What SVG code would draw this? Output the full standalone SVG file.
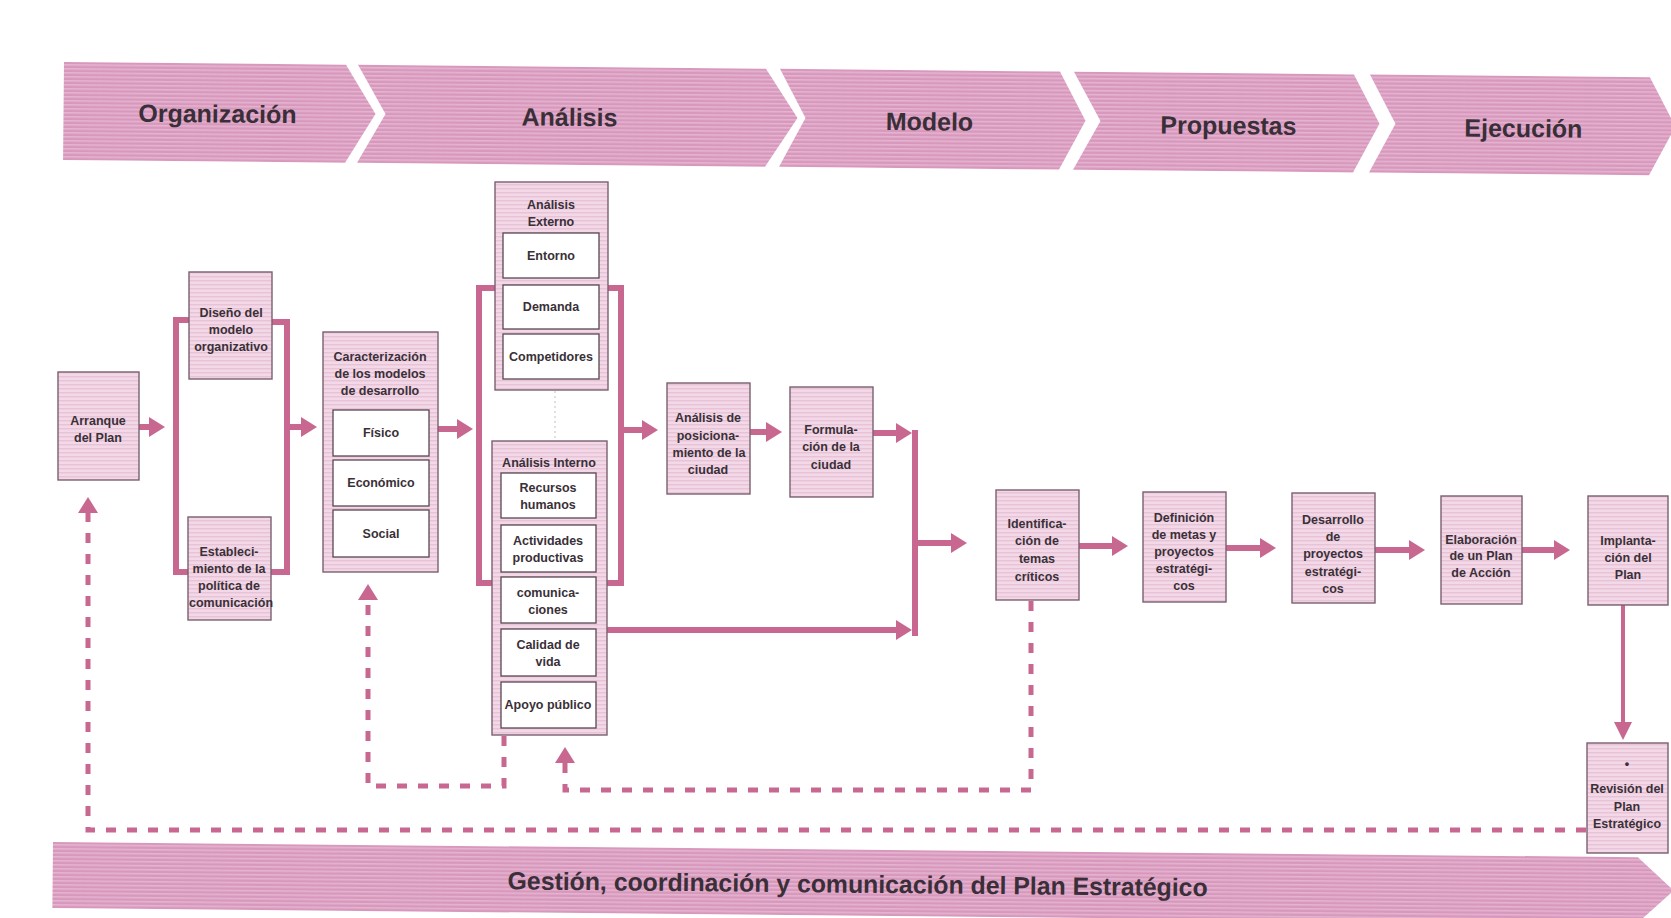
<svg xmlns="http://www.w3.org/2000/svg" width="1671" height="918" viewBox="0 0 1671 918">
<defs>
<pattern id="pb" width="6" height="4" patternUnits="userSpaceOnUse"><rect width="6" height="4" fill="#d898bd"/><rect width="6" height="1.6" fill="#e4b4cf"/></pattern>
<pattern id="pn" width="6" height="4" patternUnits="userSpaceOnUse"><rect width="6" height="4" fill="#f3d8e7"/><rect width="6" height="1.4" fill="#e8c2d6"/></pattern>
<marker id="ah" markerUnits="userSpaceOnUse" markerWidth="16" markerHeight="20" viewBox="0 0 16 20" refX="2" refY="10" orient="auto"><path d="M0,0 L16,10 L0,20 z" fill="#c86891"/></marker>
<marker id="ahs" markerUnits="userSpaceOnUse" markerWidth="18" markerHeight="20" viewBox="0 0 18 20" refX="2" refY="9" orient="auto"><path d="M0,0 L18,9 L0,18 z" fill="#c86891"/></marker>
</defs>
<style>
.ban{fill:url(#pb);}
.bt{font-family:"Liberation Sans",Arial,sans-serif;font-weight:bold;font-size:25px;fill:#3a2f38;text-anchor:middle;}
.box{fill:url(#pn);stroke:#7a6070;stroke-width:1.4;}
.sub{fill:#ffffff;stroke:#5a4752;stroke-width:1.3;}
.t{font-family:"Liberation Sans",Arial,sans-serif;font-weight:bold;font-size:12.5px;fill:#3a3038;text-anchor:middle;}
.c{fill:none;stroke:#c86891;stroke-width:6;}
.cs{fill:none;stroke:#c86891;stroke-width:4;}
.d{fill:none;stroke:#c86891;stroke-width:5;stroke-dasharray:10 11;}
.faint{fill:none;stroke:#c8c0c4;stroke-width:1;stroke-dasharray:2 3;}
</style>
<rect width="1671" height="918" fill="#ffffff"/>

<g id="phases" transform="rotate(0.55 64 62)">
<g id="ph-organizacion"><polygon class="ban" points="64,62 346,62 376,111 346,160 64,160"/><text class="bt" x="218" y="121">Organización</text></g>
<g id="ph-analisis"><polygon class="ban" points="358,62 766,62 798,111 766,160 358,160 386,111"/><text class="bt" x="570" y="121">Análisis</text></g>
<g id="ph-modelo"><polygon class="ban" points="780,62 1060,62 1086,111 1060,160 780,160 806,111"/><text class="bt" x="930" y="122">Modelo</text></g>
<g id="ph-propuestas"><polygon class="ban" points="1074,62 1354,62 1380,111 1354,160 1074,160 1101,111"/><text class="bt" x="1229" y="123">Propuestas</text></g>
<g id="ph-ejecucion"><polygon class="ban" points="1370,62 1650,62 1676,111 1650,160 1370,160 1396,111"/><text class="bt" x="1524" y="123">Ejecución</text></g>
</g>

<g id="gestion" transform="rotate(0.55 53 842)">
<polygon class="ban" points="53,842 1638,842 1674,875 1638,908 53,908"/>
<text class="bt" x="858" y="885" font-size="24" textLength="700" lengthAdjust="spacingAndGlyphs">Gestión, coordinación y comunicación del Plan Estratégico</text>
</g>

<g id="connectors">
<line class="c" x1="139" y1="427" x2="151" y2="427" marker-end="url(#ah)"/>
<path class="c" d="M189,320 H176 V572 H188"/>
<path class="c" d="M272,322 H287 V572 H270"/>
<line class="c" x1="287" y1="427" x2="303" y2="427" marker-end="url(#ah)"/>
<line class="c" x1="438" y1="429" x2="459" y2="429" marker-end="url(#ah)"/>
<path class="c" d="M495,288 H479 V583 H492"/>
<path class="c" d="M608,288 H621 V583 H607"/>
<line class="c" x1="621" y1="430" x2="644" y2="430" marker-end="url(#ah)"/>
<line class="c" x1="750" y1="432" x2="768" y2="432" marker-end="url(#ah)"/>
<line class="c" x1="873" y1="433" x2="898" y2="433" marker-end="url(#ah)"/>
<line class="c" x1="607" y1="630" x2="898" y2="630" marker-end="url(#ah)"/>
<line class="c" x1="915" y1="430" x2="915" y2="636"/>
<line class="c" x1="915" y1="543" x2="953" y2="543" marker-end="url(#ah)"/>
<line class="c" x1="1079" y1="546" x2="1114" y2="546" marker-end="url(#ah)"/>
<line class="c" x1="1226" y1="548" x2="1262" y2="548" marker-end="url(#ah)"/>
<line class="c" x1="1375" y1="550" x2="1411" y2="550" marker-end="url(#ah)"/>
<line class="c" x1="1522" y1="550" x2="1556" y2="550" marker-end="url(#ah)"/>
<line class="cs" x1="1623" y1="605" x2="1623" y2="724" marker-end="url(#ahs)"/>
<path class="d" d="M1586,830 H88 V511" marker-end="url(#ah)"/>
<path class="d" d="M504,736 V786 H368 V598" marker-end="url(#ah)"/>
<path class="d" d="M1031,601 V790 H565 V761" marker-end="url(#ah)"/>
<line class="faint" x1="555" y1="391" x2="555" y2="440"/>
</g>

<g id="arranque"><rect class="box" x="58" y="372" width="81" height="108"/><text class="t" x="98" y="425">Arranque</text><text class="t" x="98" y="442">del Plan</text></g>

<g id="diseno"><rect class="box" x="189" y="272" width="83" height="107"/><text class="t" x="231" y="317">Diseño del</text><text class="t" x="231" y="334">modelo</text><text class="t" x="231" y="351">organizativo</text></g>

<g id="establecimiento"><rect class="box" x="188" y="517" width="83" height="103"/><text class="t" x="229" y="556">Estableci-</text><text class="t" x="229" y="573">miento de la</text><text class="t" x="229" y="590">política de</text><text class="t" x="231" y="607">comunicación</text></g>

<g id="caracterizacion"><rect class="box" x="323" y="332" width="115" height="240"/>
<text class="t" x="380" y="361">Caracterización</text><text class="t" x="380" y="378">de los modelos</text><text class="t" x="380" y="395">de desarrollo</text>
<rect class="sub" x="333" y="410" width="96" height="46"/><text class="t" x="381" y="437">Físico</text>
<rect class="sub" x="333" y="460" width="96" height="46"/><text class="t" x="381" y="487">Económico</text>
<rect class="sub" x="333" y="510" width="96" height="47"/><text class="t" x="381" y="538">Social</text>
</g>

<g id="analisis-externo"><rect class="box" x="495" y="182" width="113" height="208"/>
<text class="t" x="551" y="209">Análisis</text><text class="t" x="551" y="226">Externo</text>
<rect class="sub" x="503" y="233" width="96" height="45"/><text class="t" x="551" y="260">Entorno</text>
<rect class="sub" x="503" y="285" width="96" height="44"/><text class="t" x="551" y="311">Demanda</text>
<rect class="sub" x="503" y="334" width="96" height="45"/><text class="t" x="551" y="361">Competidores</text>
</g>

<g id="analisis-interno"><rect class="box" x="492" y="441" width="115" height="294"/>
<text class="t" x="549" y="467">Análisis Interno</text>
<rect class="sub" x="501" y="473" width="95" height="45"/><text class="t" x="548" y="492">Recursos</text><text class="t" x="548" y="509">humanos</text>
<rect class="sub" x="501" y="525" width="95" height="47"/><text class="t" x="548" y="545">Actividades</text><text class="t" x="548" y="562">productivas</text>
<rect class="sub" x="501" y="577" width="95" height="46"/><text class="t" x="548" y="597">comunica-</text><text class="t" x="548" y="614">ciones</text>
<rect class="sub" x="501" y="629" width="95" height="47"/><text class="t" x="548" y="649">Calidad de</text><text class="t" x="548" y="666">vida</text>
<rect class="sub" x="501" y="682" width="95" height="46"/><text class="t" x="548" y="709">Apoyo público</text>
</g>

<g id="posicionamiento"><rect class="box" x="667" y="383" width="83" height="111"/><text class="t" x="708" y="422">Análisis de</text><text class="t" x="708" y="440">posiciona-</text><text class="t" x="709" y="457">miento de la</text><text class="t" x="708" y="474">ciudad</text></g>

<g id="formulacion"><rect class="box" x="790" y="387" width="83" height="110"/><text class="t" x="831" y="434">Formula-</text><text class="t" x="831" y="451">ción de la</text><text class="t" x="831" y="469">ciudad</text></g>

<g id="identificacion"><rect class="box" x="996" y="490" width="83" height="110"/><text class="t" x="1037" y="528">Identifica-</text><text class="t" x="1037" y="545">ción de</text><text class="t" x="1037" y="563">temas</text><text class="t" x="1037" y="581">críticos</text></g>

<g id="definicion"><rect class="box" x="1143" y="492" width="83" height="110"/><text class="t" x="1184" y="522">Definición</text><text class="t" x="1184" y="539">de metas y</text><text class="t" x="1184" y="556">proyectos</text><text class="t" x="1184" y="573">estratégi-</text><text class="t" x="1184" y="590">cos</text></g>

<g id="desarrollo"><rect class="box" x="1292" y="493" width="83" height="110"/><text class="t" x="1333" y="524">Desarrollo</text><text class="t" x="1333" y="541">de</text><text class="t" x="1333" y="558">proyectos</text><text class="t" x="1333" y="576">estratégi-</text><text class="t" x="1333" y="593">cos</text></g>

<g id="elaboracion"><rect class="box" x="1441" y="496" width="81" height="108"/><text class="t" x="1481" y="544">Elaboración</text><text class="t" x="1481" y="560">de un Plan</text><text class="t" x="1481" y="577">de Acción</text></g>

<g id="implantacion"><rect class="box" x="1588" y="496" width="80" height="109"/><text class="t" x="1628" y="545">Implanta-</text><text class="t" x="1628" y="562">ción del</text><text class="t" x="1628" y="579">Plan</text></g>

<g id="revision"><rect class="box" x="1587" y="743" width="81" height="110"/><text class="t" x="1627" y="768" font-size="8">•</text><text class="t" x="1627" y="793">Revisión del</text><text class="t" x="1627" y="811">Plan</text><text class="t" x="1627" y="828">Estratégico</text></g>
</svg>
